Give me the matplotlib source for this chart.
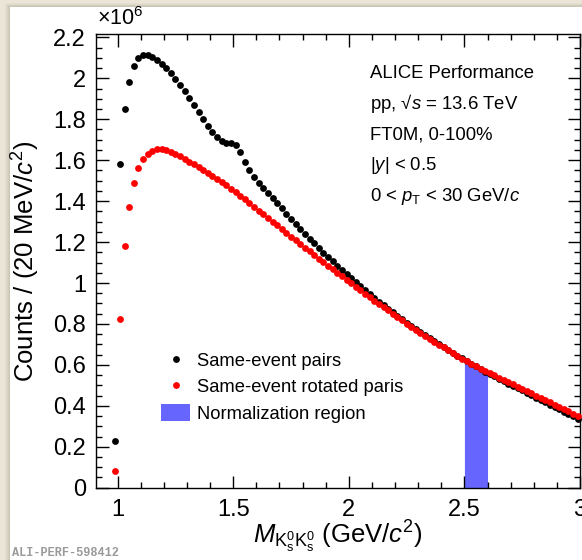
import numpy as np
import matplotlib
matplotlib.use("Agg")
import matplotlib.pyplot as plt
from matplotlib.patches import Rectangle, Patch
from matplotlib.lines import Line2D
from matplotlib.ticker import MultipleLocator, FuncFormatter

plt.rcParams['font.family'] = ['Liberation Sans', 'DejaVu Sans']
plt.rcParams['mathtext.fontset'] = 'custom'
plt.rcParams['mathtext.rm'] = 'Liberation Sans'
plt.rcParams['mathtext.it'] = 'Liberation Sans:italic'
plt.rcParams['mathtext.bf'] = 'Liberation Sans:bold'

# Bin centres (GeV/c^2), 20 MeV bins
mass = np.round(np.arange(0.99, 3.0, 0.02), 2)

# Same-event pairs (x 10^6)
same_event = [
    0.23, 1.58, 1.85, 1.98, 2.06, 2.10, 2.115, 2.113, 2.105, 2.090,
    2.072, 2.050, 2.024, 1.996, 1.968, 1.938, 1.906, 1.871, 1.835, 1.799,
    1.766, 1.737, 1.713, 1.695, 1.685, 1.684, 1.676, 1.640, 1.592, 1.552,
    1.518, 1.489, 1.463, 1.438, 1.413, 1.389, 1.364, 1.339, 1.313, 1.288,
    1.264, 1.240, 1.217, 1.194, 1.171, 1.149, 1.127, 1.106, 1.085, 1.064,
    1.043, 1.023, 1.003, 0.984, 0.965, 0.946, 0.927, 0.909, 0.891, 0.873,
    0.856, 0.839, 0.822, 0.806, 0.790, 0.774, 0.759, 0.744, 0.729, 0.715,
    0.701, 0.687, 0.673, 0.659, 0.645, 0.632, 0.619, 0.606, 0.593, 0.580,
    0.567, 0.555, 0.544, 0.532, 0.521, 0.509, 0.498, 0.486, 0.475, 0.463,
    0.452, 0.440, 0.429, 0.417, 0.406, 0.394, 0.383, 0.371, 0.360, 0.348,
    0.337,
]

# Same-event rotated pairs (x 10^6)
rotated = [
    0.082, 0.826, 1.18, 1.37, 1.49, 1.56, 1.605, 1.630, 1.646, 1.653,
    1.654, 1.649, 1.641, 1.631, 1.619, 1.606, 1.593, 1.579, 1.565, 1.551,
    1.537, 1.522, 1.507, 1.492, 1.477, 1.461, 1.443, 1.426, 1.408, 1.390,
    1.372, 1.354, 1.336, 1.318, 1.299, 1.281, 1.263, 1.245, 1.227, 1.209,
    1.191, 1.173, 1.155, 1.137, 1.119, 1.101, 1.084, 1.067, 1.050, 1.033,
    1.016, 0.999, 0.982, 0.965, 0.948, 0.931, 0.914, 0.898, 0.882, 0.866,
    0.850, 0.834, 0.818, 0.802, 0.787, 0.772, 0.757, 0.742, 0.727, 0.713,
    0.699, 0.685, 0.671, 0.657, 0.644, 0.631, 0.618, 0.606, 0.594, 0.582,
    0.571, 0.560, 0.549, 0.538, 0.527, 0.516, 0.505, 0.494, 0.483, 0.472,
    0.461, 0.450, 0.439, 0.428, 0.417, 0.406, 0.395, 0.384, 0.373, 0.362,
    0.351,
]

norm_lo, norm_hi = 2.5, 2.6

info_lines = [
    "ALICE Performance",
    "pp, √$s$ = 13.6 TeV",
    "FT0M, 0-100%",
    "|$y$| < 0.5",
    "0 < $p_{\\mathrm{T}}$ < 30 GeV/$c$",
]

W, H = 582, 560
fig = plt.figure(figsize=(W / 100, H / 100), dpi=100)
fig.patch.set_facecolor('#ebe5d8')

# white page with a soft shadow
for i, a in enumerate([0.05, 0.05, 0.06, 0.07, 0.08]):
    fig.patches.append(Rectangle(((5 + i) / W, 0), 1, 1 - (3 + i * 0.8) / H,
                                 transform=fig.transFigure, facecolor='#7d7462',
                                 alpha=a, edgecolor='none', zorder=-10))
fig.patches.append(Rectangle((10 / W, 0), 1, 1 - 7 / H, transform=fig.transFigure,
                             facecolor='white', edgecolor='none', zorder=-5))

ax = fig.add_axes([95.7 / W, 1 - 487.7 / H, (580 - 95.7) / W, (487.7 - 34.3) / H])
ax.set_facecolor('none')

mass_arr = np.array(mass)
red_arr = np.array(rotated)
sel = (mass_arr > norm_lo) & (mass_arr < norm_hi)
xs = np.concatenate([[norm_lo], mass_arr[sel], [norm_hi]])
ys = np.concatenate([[np.interp(norm_lo, mass_arr, red_arr)], red_arr[sel],
                     [np.interp(norm_hi, mass_arr, red_arr)]])
ax.fill_between(xs, 0, ys, color='#6666ff', lw=0, zorder=1)

ms = 4.9
ax.plot(mass, same_event, 'o', color='black', ms=ms, mec='none', zorder=3, clip_on=False)
ax.plot(mass, rotated, 'o', color='#ff0000', ms=ms, mec='none', zorder=4, clip_on=False)

ax.set_xlim(0.905, 3.0)
ax.set_ylim(0, 2.215)

ax.xaxis.set_major_locator(MultipleLocator(0.5))
ax.xaxis.set_minor_locator(MultipleLocator(0.1))
ax.yaxis.set_major_locator(MultipleLocator(0.2))
ax.yaxis.set_minor_locator(MultipleLocator(0.05))
fmt = FuncFormatter(lambda v, p: '%g' % round(v, 2))
ax.xaxis.set_major_formatter(fmt)
ax.yaxis.set_major_formatter(fmt)
ax.tick_params(which='both', direction='in', top=True, right=True, width=1.0,
               labelsize=17, color='black')
ax.tick_params(which='major', length=9)
ax.tick_params(which='minor', length=4.5)
ax.tick_params(axis='y', pad=7)
ax.tick_params(axis='x', pad=8)
for s in ax.spines.values():
    s.set_linewidth(1.0)

ax.set_ylabel("Counts / (20 MeV/$c^{2}$)", fontsize=18.5, va='center')
ax.yaxis.set_label_coords((26 - 95.7) / 484.3, 0.5)
ax.set_xlabel("$M_{\\mathrm{K}^{0}_{\\mathrm{s}}\\mathrm{K}^{0}_{\\mathrm{s}}}$ (GeV/$c^{2}$)",
              fontsize=18.5, va='center')
ax.xaxis.set_label_coords(0.5, (487.7 - 537) / 453.4)

fig.text(97 / W, 1 - 19 / H, "×10$^{6}$", fontsize=15.5, ha='left', va='center')

for i, t in enumerate(info_lines):
    fig.text(370 / W, 1 - (73 + i * 30.8) / H, t, fontsize=13.3, ha='left', va='center')

handles = [
    Line2D([], [], ls='none', marker='o', color='black', ms=ms, mec='none'),
    Line2D([], [], ls='none', marker='o', color='#ff0000', ms=ms, mec='none'),
    Patch(facecolor='#6666ff', edgecolor='none'),
]
labels = ["Same-event pairs", "Same-event rotated paris", "Normalization region"]
ax.legend(handles, labels, loc='upper left', bbox_to_anchor=(0.12, 0.316),
          frameon=False, fontsize=13.2, handlelength=1.6, handleheight=1.0,
          labelspacing=0.42, handletextpad=0.35, borderaxespad=0)

fig.text(12 / W, 1 - 553 / H, "ALI-PERF-598412", fontsize=8.6, color='#9a9a9a',
         family=['Liberation Mono', 'DejaVu Sans Mono'], fontweight='bold',
         ha='left', va='center')

fig.savefig('out.png', dpi=100, facecolor=fig.get_facecolor())
